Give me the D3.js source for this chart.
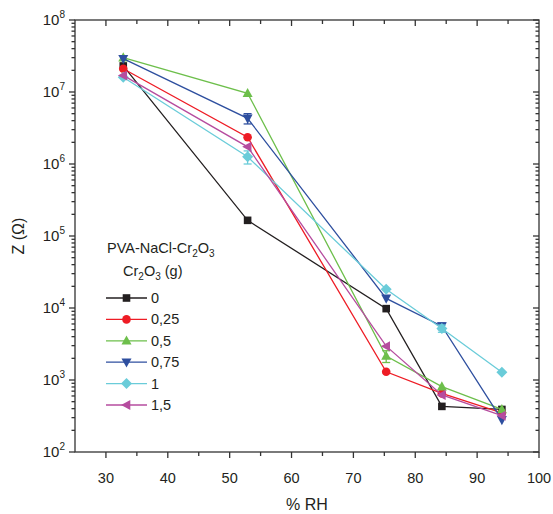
<!DOCTYPE html>
<html>
<head>
<meta charset="utf-8">
<script src="https://cdn.jsdelivr.net/npm/d3@7"></script>
<style>
  body { margin: 0; background: #fff; }
  svg { display: block; font-family: "Liberation Sans", Arial, sans-serif; }
</style>
</head>
<body>
<svg id="chart" width="553" height="514"></svg>
<script>
"use strict";

// ===== Data =====
const rh = [32.8, 52.9, 75.3, 84.3, 94.0];
const labels = ["0", "0,25", "0,5", "0,75", "1", "1,5"];
const z0   = [2.3e7, 1.65e5, 9.8e3, 430, 390];
const z025 = [2.1e7, 2.35e6, 1.3e3, 650, 350];
const z05  = [3.0e7, 9.6e6, 2.15e3, 810, 390];
const z075 = [2.9e7, 4.3e6, 1.36e4, 5.6e3, 280];
const z1   = [1.6e7, 1.26e6, 1.82e4, 5.2e3, 1.28e3];
const z15  = [1.7e7, 1.73e6, 2.95e3, 620, 320];
const err1 = [0, 2.6e5, 0, 600, 0];
const err075 = [0, 7e5, 0, 600, 0];
const err05 = [0, 0, 400, 0, 0];
const xTicks = [30, 40, 50, 60, 70, 80, 90, 100];
const yTicks = [2, 3, 4, 5, 6, 7, 8];

const seriesList = [
  { label: labels[0], values: z0,   color: "#231f20", shape: "square" },
  { label: labels[1], values: z025, color: "#ee1c25", shape: "circle" },
  { label: labels[2], values: z05,  color: "#6dbf4b", shape: "up",    err: err05 },
  { label: labels[3], values: z075, color: "#2e4f9f", shape: "down",  err: err075 },
  { label: labels[4], values: z1,   color: "#6accd9", shape: "diamond", err: err1 },
  { label: labels[5], values: z15,  color: "#b64c9f", shape: "left" },
];

// ===== Layout =====
const svg = d3.select("#chart");
const L = 75, R = 539, T = 20, B = 452;
const x = d3.scaleLinear().domain([25, 100]).range([L, R]);
const y = d3.scaleLog().domain([100, 1e8]).range([B, T]);
const axisColor = "#333";

// marker paths centred on 0,0
function markerPath(shape) {
  switch (shape) {
    case "square": return "M-3.8,-3.8H3.8V3.8H-3.8Z";
    case "up": return "M0,-5.4L5,3.8L-5,3.8Z";
    case "down": return "M0,5.4L5,-3.8L-5,-3.8Z";
    case "left": return "M-5.4,0L3.8,-5L3.8,5Z";
    case "diamond": return "M0,-5.5L5.5,0L0,5.5L-5.5,0Z";
    default: return d3.symbol(d3.symbolCircle, 58)();
  }
}

// ===== Frame and ticks =====
const frame = svg.append("g").attr("stroke", axisColor).attr("stroke-width", 1.3);
frame.append("rect").attr("x", L).attr("y", T).attr("width", R - L).attr("height", B - T).attr("fill", "none");

// x ticks: bottom outward, top inward
const xMinor = d3.range(30, 100, 5);
xMinor.forEach(v => {
  const major = v % 10 === 0;
  const len = major ? 6 : 4;
  frame.append("line").attr("x1", x(v)).attr("x2", x(v)).attr("y1", B).attr("y2", B + len);
  frame.append("line").attr("x1", x(v)).attr("x2", x(v)).attr("y1", T).attr("y2", T + len);
});
frame.append("line").attr("x1", x(100)).attr("x2", x(100)).attr("y1", B).attr("y2", B + 6);

// y ticks: left outward, right inward
for (let e = 2; e <= 8; e++) {
  for (let m = 1; m <= 9; m++) {
    const v = m * Math.pow(10, e);
    if (v > 1e8) break;
    const len = m === 1 ? 6 : 3.5;
    frame.append("line").attr("x1", L - len).attr("x2", L).attr("y1", y(v)).attr("y2", y(v));
    frame.append("line").attr("x1", R - len).attr("x2", R).attr("y1", y(v)).attr("y2", y(v));
  }
}

// tick labels
svg.append("g").selectAll("text").data(xTicks).join("text")
  .attr("x", d => x(d)).attr("y", 483)
  .attr("text-anchor", "middle").attr("font-size", 14.5).attr("fill", "#231f20")
  .text(d => d);

const yLab = svg.append("g").selectAll("text").data(yTicks).join("text")
  .attr("x", 65).attr("y", d => y(Math.pow(10, d)) + 5)
  .attr("text-anchor", "end").attr("font-size", 15).attr("fill", "#231f20");
yLab.append("tspan").text("10");
yLab.append("tspan").attr("dy", -7).attr("font-size", 10).text(d => d);

// axis titles
svg.append("text").attr("x", (L + R) / 2).attr("y", 510)
  .attr("text-anchor", "middle").attr("font-size", 16).attr("fill", "#231f20").text("% RH");
svg.append("text").attr("transform", `translate(24,${(T + B) / 2}) rotate(-90)`)
  .attr("text-anchor", "middle").attr("font-size", 16).attr("fill", "#231f20").text("Z (Ω)");

// ===== Series =====
const line = d3.line().x(d => x(d[0])).y(d => y(d[1]));
const plot = svg.append("g");
seriesList.forEach(s => {
  const pts = rh.map((r, i) => [r, s.values[i], s.err ? s.err[i] : 0]);
  const g = plot.append("g");
  g.append("path").attr("d", line(pts)).attr("fill", "none")
    .attr("stroke", s.color).attr("stroke-width", 1.3);
  pts.filter(p => p[2] > 0).forEach(p => {
    g.append("line").attr("x1", x(p[0])).attr("x2", x(p[0]))
      .attr("y1", y(p[1] - p[2])).attr("y2", y(p[1] + p[2]))
      .attr("stroke", s.color).attr("stroke-width", 1.3);
    [p[1] - p[2], p[1] + p[2]].forEach(v => {
      g.append("line").attr("x1", x(p[0]) - 4).attr("x2", x(p[0]) + 4)
        .attr("y1", y(v)).attr("y2", y(v))
        .attr("stroke", s.color).attr("stroke-width", 1.3);
    });
  });
  g.selectAll("path.mk").data(pts).join("path").attr("class", "mk")
    .attr("d", markerPath(s.shape))
    .attr("transform", d => `translate(${x(d[0])},${y(d[1])})`)
    .attr("fill", s.color);
});

// ===== Legend =====
const leg = svg.append("g").attr("font-size", 14.5).attr("fill", "#231f20");
const t1 = leg.append("text").attr("x", 107).attr("y", 253);
t1.append("tspan").text("PVA-NaCl-Cr");
t1.append("tspan").attr("dy", 4).attr("font-size", 10).text("2");
t1.append("tspan").attr("dy", -4).text("O");
t1.append("tspan").attr("dy", 4).attr("font-size", 10).text("3");
const t2 = leg.append("text").attr("x", 123).attr("y", 276);
t2.append("tspan").text("Cr");
t2.append("tspan").attr("dy", 4).attr("font-size", 10).text("2");
t2.append("tspan").attr("dy", -4).text("O");
t2.append("tspan").attr("dy", 4).attr("font-size", 10).text("3");
t2.append("tspan").attr("dy", -4).text(" (g)");

seriesList.forEach((s, i) => {
  const yy = 298 + i * 21.4;
  leg.append("line").attr("x1", 106).attr("x2", 147).attr("y1", yy).attr("y2", yy)
    .attr("stroke", s.color).attr("stroke-width", 1.3);
  leg.append("path").attr("d", markerPath(s.shape))
    .attr("transform", `translate(126.5,${yy})`).attr("fill", s.color);
  leg.append("text").attr("x", 151).attr("y", yy + 5).text(s.label);
});
</script>
</body>
</html>
